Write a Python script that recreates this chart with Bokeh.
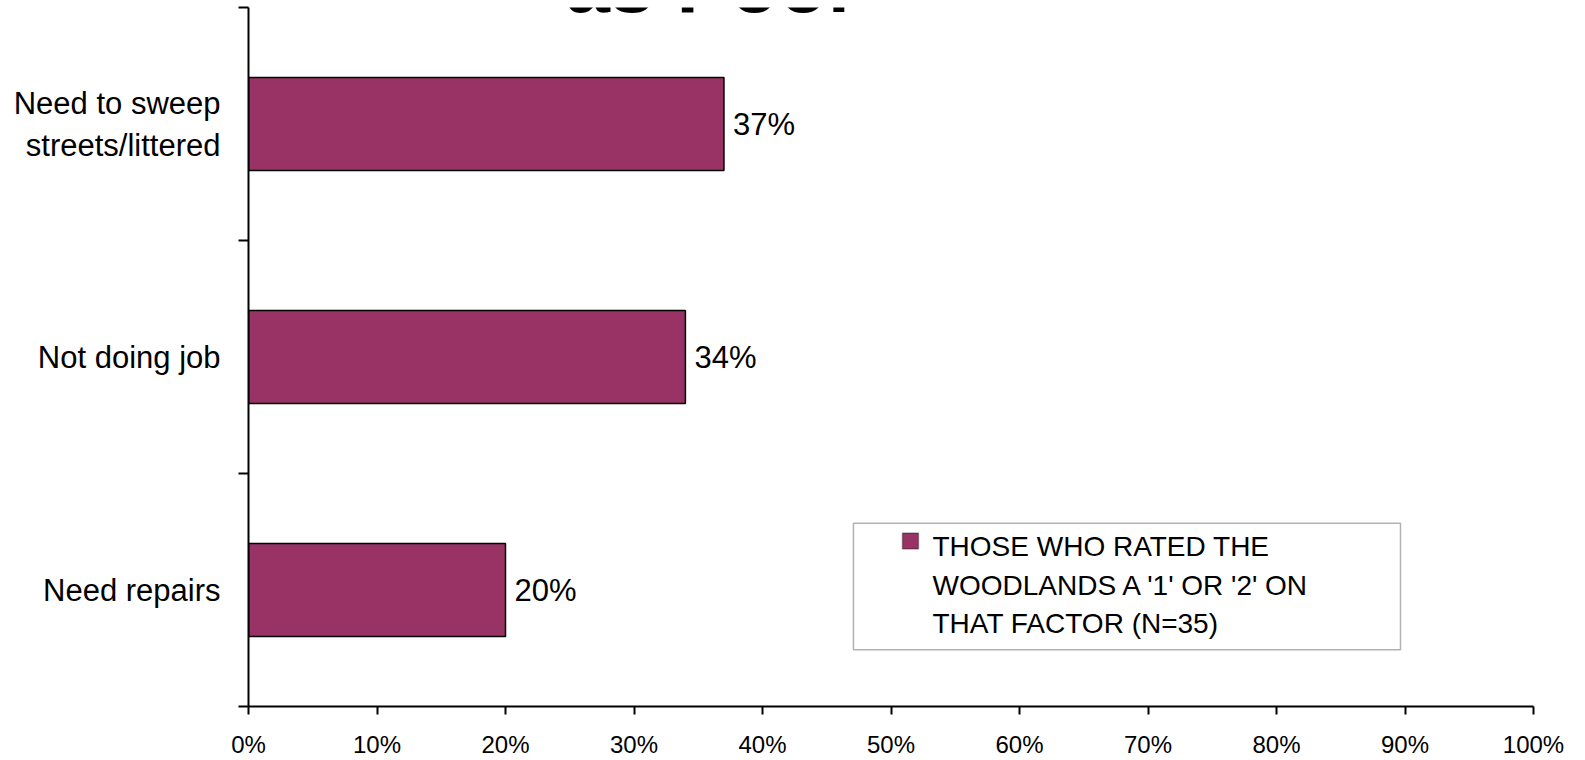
from bokeh.plotting import figure
from bokeh.models import (FixedTicker, PrintfTickFormatter, BoxAnnotation, Label,
                          ColumnDataSource, Range1d)
from bokeh.core.properties import value
from bokeh.embed import file_html
from bokeh.resources import INLINE

# ---- data ----
categories = ["Need to sweep\nstreets/littered", "Not doing job", "Need repairs"]
values = [37, 34, 20]
x_ticks = [0, 10, 20, 30, 40, 50, 60, 70, 80, 90, 100]
legend_label = "THOSE WHO RATED THE\nWOODLANDS A '1' OR '2' ON\nTHAT FACTOR (N=35)"
title_fragment = "as Poor"

# ---- styling ----
FONT = "Liberation Sans"
BAR_COLOR = "#993366"

n = len(categories)
positions = [n - i - 0.5 for i in range(n)]          # band centres, top to bottom
boundaries = [float(b) for b in range(n + 1)]
labels = [f"{v}%" for v in values]

p = figure(width=1580, height=760, output_backend="svg", toolbar_location=None,
           x_range=Range1d(0, 100), y_range=Range1d(0, n),
           min_border_left=248, min_border_right=47, min_border_top=7,
           min_border_bottom=51, background_fill_color="white",
           border_fill_color="white")
p.outline_line_color = None
p.grid.visible = False

src = ColumnDataSource(dict(y=positions, v=values, lab=labels))
p.hbar(y="y", left=0, right="v", height=0.4, source=src,
       fill_color=BAR_COLOR, line_color="black", line_width=1.5)
p.text(x="v", y="y", text="lab", source=src, x_offset=9,
       text_baseline="middle", text_align="left",
       text_font=value(FONT), text_font_size="31px", text_color="black")

# y axis: boundary ticks as minor ticks, labels at band centres
ya = p.yaxis[0]
ya.ticker = FixedTicker(ticks=positions, minor_ticks=boundaries)
ya.major_label_overrides = {float(pos): cat for pos, cat in zip(positions, categories)}
ya.major_tick_out = 0
ya.major_tick_in = 0
ya.minor_tick_out = 10
ya.minor_tick_in = 0
ya.minor_tick_line_color = "black"
ya.minor_tick_line_width = 2
ya.axis_line_width = 2
ya.axis_line_color = "black"
ya.major_label_standoff = 18
ya.major_label_text_font = FONT
ya.major_label_text_font_size = "31px"
ya.major_label_text_color = "black"

xa = p.xaxis[0]
xa.ticker = FixedTicker(ticks=x_ticks, minor_ticks=[])
xa.formatter = PrintfTickFormatter(format="%d%%")
xa.major_tick_out = 8
xa.major_tick_in = 0
xa.major_tick_line_width = 2
xa.major_tick_line_color = "black"
xa.minor_tick_out = 0
xa.minor_tick_in = 0
xa.axis_line_width = 2
xa.axis_line_color = "black"
xa.major_label_standoff = 16
xa.major_label_text_font = FONT
xa.major_label_text_font_size = "24px"
xa.major_label_text_color = "black"

# ---- clipped remnant of the slide title above the chart ----
p.add_layout(Label(x=24.66, y=3.098, text=title_fragment, text_baseline="alphabetic",
                   text_align="left", text_font=FONT, text_font_size="80px",
                   text_font_style="bold", text_color="black"))

# ---- legend (drawn manually to match the boxed 3-line legend) ----
p.add_layout(BoxAnnotation(left=47.08, right=89.65, top=0.787, bottom=0.244,
                           fill_color="white", fill_alpha=1.0,
                           line_color="black", line_width=1.5, level="overlay"))
p.add_layout(BoxAnnotation(left=50.89, right=52.14, top=0.745, bottom=0.676,
                           fill_color=BAR_COLOR, fill_alpha=1.0,
                           line_color="black", line_width=1.5, level="overlay"))
p.add_layout(Label(x=53.23, y=0.754, text=legend_label, text_baseline="top",
                   text_align="left", text_font=FONT, text_font_size="28px",
                   text_line_height=1.25, text_color="black", level="overlay"))

open("out.html", "w").write(file_html(p, INLINE))
